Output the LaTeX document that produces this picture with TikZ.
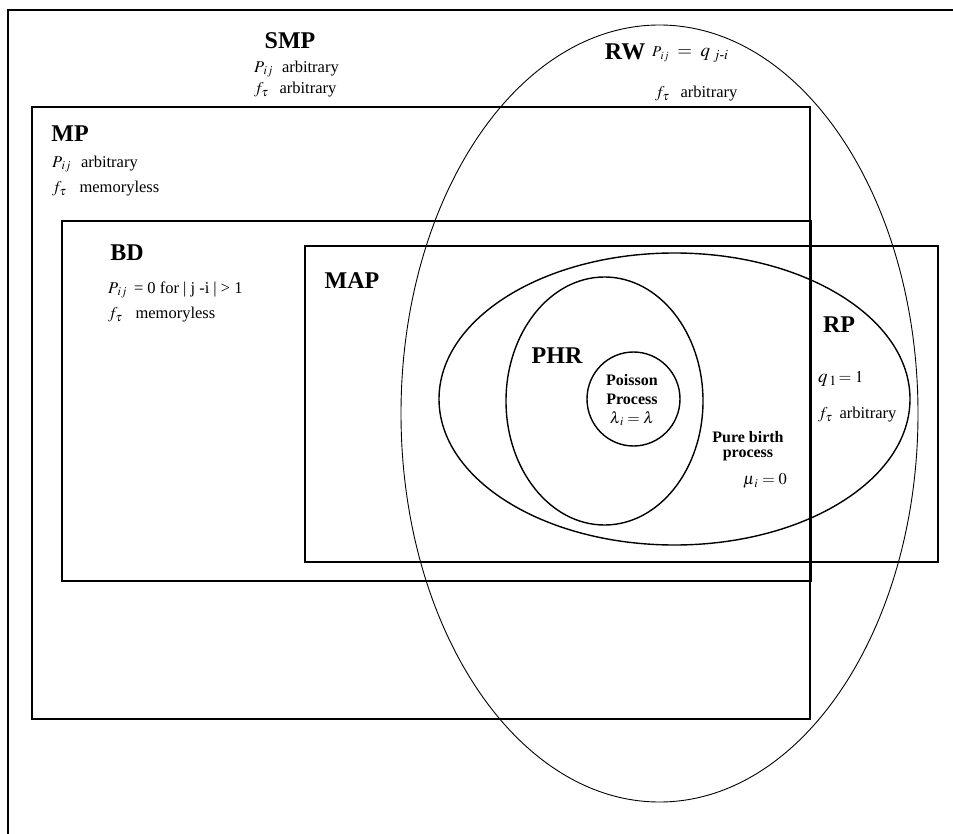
\documentclass[tikz,border=0pt]{standalone}
\usepackage{amsmath}
\usepackage{mathptmx}
\usepackage{fontspec}
\setmainfont{Liberation Serif}
\tikzset{
  setlabel/.style={font=\fontsize{24}{28}\selectfont\bfseries, inner sep=0pt},
  setnote/.style={font=\fontsize{16.5}{19}\selectfont, anchor=west, inner sep=0pt},
  setbold/.style={font=\fontsize{16}{19}\selectfont\bfseries, align=center, inner sep=0pt},
  setbox/.style={line width=1.2pt},
  setoval/.style={line width=1.4pt},
  setthin/.style={line width=0.9pt},
}

\begin{document}
\begin{tikzpicture}[x=1pt, y=-1pt]
  \useasboundingbox (0,0) rectangle (953,834);
  % set boundaries
  \draw[setbox] (8,834) -- (8,10) -- (953,10);
  \draw[setbox] (32,107) rectangle (810,719);
  \draw[setbox] (62,221) rectangle (811,581);
  \draw[setbox] (305,246) rectangle (938,562);
  \draw[setthin] (659.5,413.5) ellipse [x radius=258.5pt, y radius=388.5pt];
  \draw[setoval] (674.5,399) ellipse [x radius=235.5pt, y radius=146pt];
  \draw[setoval] (604.5,401) ellipse [x radius=98.5pt, y radius=124pt];
  \draw[setoval] (633.5,399) ellipse [x radius=46.5pt, y radius=47pt];
  % SMP
  \node[setlabel] (smp) at (290,41) {SMP};
  \node[setnote] (smpP) at (254,69) {$P_{\,ij}$\hspace{9pt}arbitrary};
  \node[setnote] (smpf) at (254,90) {$f_{\tau}$\hspace{11pt}arbitrary};
  % MP
  \node[setlabel] (mp) at (70,134) {MP};
  \node[setnote] (mpP) at (52,164) {$P_{\,ij}$\hspace{10pt}arbitrary};
  \node[setnote] (mpf) at (52,189) {$f_{\tau}$\hspace{13pt}memoryless};
  % BD
  \node[setlabel] (bd) at (127,253) {BD};
  \node[setnote] (bdP) at (108,290) {$P_{\,ij}$\hspace{7pt}= 0 for | j -i | > 1};
  \node[setnote] (bdf) at (108,315) {$f_{\tau}$\hspace{13pt}memoryless};
  % MAP
  \node[setlabel] (map) at (352,281) {MAP};
  % RW
  \node[setlabel] (rw) at (625,52) {RW};
  \node[setnote] (rwP) at (652,55) {{\fontsize{15}{17}\selectfont$P_{\,ij}$}\hspace{8pt}{\fontsize{19}{22}\selectfont$=\;q_{\;j\text{-}i}$}};
  \node[setnote] (rwf) at (655,94) {$f_{\tau}$\hspace{11pt}arbitrary};
  % PHR and Poisson
  \node[setlabel] (phr) at (557,356) {PHR};
  \node[setbold] (poisson) at (632,400) {Poisson\\Process\\$\lambda_{\,i} = \lambda$};
  % pure birth
  \node[setbold, font=\fontsize{16}{15}\selectfont\bfseries] (birth) at (748,446) {Pure birth\\process};
  \node[setnote] (birthmu) at (743,481) {$\mu_{\,i} = 0$};
  % RP
  \node[setlabel] (rp) at (839,325) {RP};
  \node[setnote] (rpq) at (818,379) {{\fontsize{19}{22}\selectfont$q_{\,1}$}$\,= 1$};
  \node[setnote] (rpf) at (818,415) {$f_{\tau}$\hspace{7pt}arbitrary};
\end{tikzpicture}
\end{document}
